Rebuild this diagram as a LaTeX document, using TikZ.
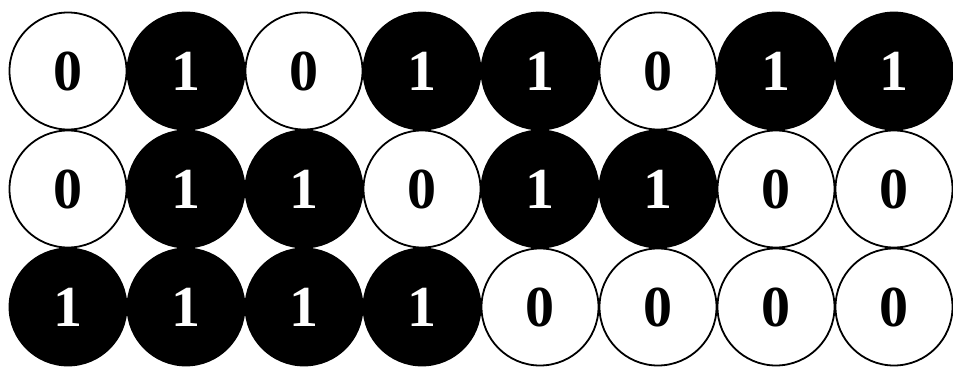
\documentclass[tikz,border=0pt]{standalone}
\usepackage{fontspec}
\newfontfamily\bitfont{Liberation Serif}
\tikzset{
  bit cell/.style={circle, minimum size=117pt, inner sep=0pt, line width=1.8pt,
    font=\bitfont\fontsize{58}{58}\selectfont\bfseries},
  bit zero/.style={bit cell, draw=black, fill=white, text=black},
  bit one/.style={bit cell, draw=black, fill=black, text=white},
}
\begin{document}
\begin{tikzpicture}[x=1pt,y=1pt]
  \useasboundingbox (0,0) rectangle (953,367);
  % Three rows of eight bits, filled discs for ones
  \foreach \bits [count=\row] in {{0,1,0,1,1,0,1,1},{0,1,1,0,1,1,0,0},{1,1,1,1,0,0,0,0}} {
    \foreach \b [count=\col] in \bits {
      \ifnum\b=1 \def\bitstyle{bit one}\else\def\bitstyle{bit zero}\fi
      \node[\bitstyle] (bit-\row-\col) at ({68+118*(\col-1)}, {296-118*(\row-1)}) {\b};
    }
  }
\end{tikzpicture}
\end{document}
